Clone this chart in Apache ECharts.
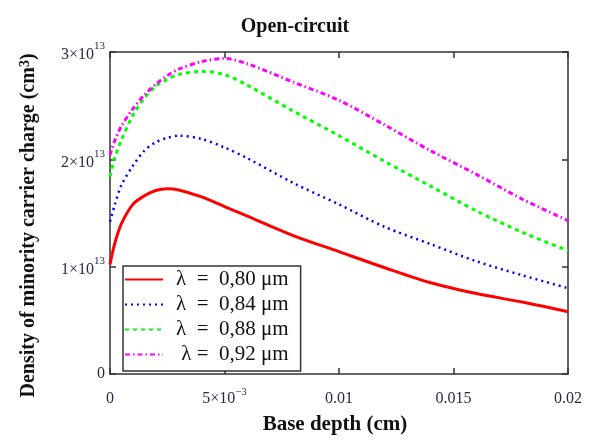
<!DOCTYPE html>
<html>
<head>
<meta charset="utf-8">
<script src="https://cdn.jsdelivr.net/npm/echarts@6/dist/echarts.min.js"></script>
<style>
  html, body { margin: 0; padding: 0; background: #fff; }
  #chart { width: 598px; height: 440px; }
</style>
</head>
<body>
<div id="chart"></div>
<script>
// base depth (cm) and charge density in units of 1e13 cm^-3
const depth = [0, 0.0002, 0.0005, 0.001, 0.0015, 0.002, 0.0025, 0.003, 0.004, 0.005, 0.006, 0.008, 0.010, 0.012, 0.014, 0.016, 0.018, 0.020];
const lambda080 = [1.02, 1.21, 1.40, 1.58, 1.66, 1.71, 1.725, 1.715, 1.65, 1.56, 1.47, 1.29, 1.14, 0.99, 0.85, 0.75, 0.67, 0.58];
const lambda084 = [1.42, 1.57, 1.76, 1.94, 2.08, 2.16, 2.20, 2.22, 2.19, 2.11, 2.01, 1.78, 1.58, 1.37, 1.21, 1.05, 0.92, 0.80];
const lambda088 = [1.84, 2.01, 2.18, 2.41, 2.57, 2.68, 2.745, 2.79, 2.82, 2.79, 2.69, 2.45, 2.22, 1.98, 1.75, 1.52, 1.32, 1.15];
const lambda092 = [2.04, 2.17, 2.31, 2.47, 2.60, 2.70, 2.78, 2.84, 2.91, 2.94, 2.89, 2.72, 2.55, 2.32, 2.08, 1.86, 1.63, 1.43];

const seriesNames = ['λ  =  0,80 μm', 'λ  =  0,84 μm', 'λ  =  0,88 μm', ' λ =  0,92 μm'];
const yTickLabels = { 0: '0', 1: '{a|1×10}{s|13}', 2: '{a|2×10}{s|13}', 3: '{a|3×10}{s|13}' };
const xTickLabels = { 0: '{a|0}', 0.005: '{a|5×10}{s|−3}', 0.01: '{a|0.01}', 0.015: '{a|0.015}', 0.02: '{a|0.02}' };

const serif = 'Liberation Serif, Times New Roman, serif';
const labelColor = '#2a2a48';
const frame = '#333';

const pairs = (ys) => depth.map((x, i) => [x, ys[i]]);

const yRich = {
  a: { fontFamily: serif, fontSize: 16, color: labelColor, padding: [6, 0, 0, 0] },
  s: { fontFamily: serif, fontSize: 11, color: labelColor, verticalAlign: 'top' }
};
const xRich = {
  a: { fontFamily: serif, fontSize: 16, color: labelColor, padding: [4, 0, 0, 0] },
  s: { fontFamily: serif, fontSize: 11, color: labelColor, verticalAlign: 'top' }
};

const boxAxis = {
  axisLine: { show: true, onZero: false, lineStyle: { color: frame, width: 1.5 } },
  axisTick: { show: true, inside: true, length: 6, lineStyle: { color: frame, width: 1.5 } },
  splitLine: { show: false }
};

const chart = echarts.init(document.getElementById('chart'));

const mkSeries = (name, ys, color, type, width) => ({
  name,
  type: 'line',
  data: pairs(ys),
  smooth: 0.3,
  symbol: 'none',
  lineStyle: { color, type, width },
  itemStyle: { color },
  z: 3
});

chart.setOption({
  animation: false,
  title: {
    text: 'Open-circuit',
    left: 290,
    top: 12,
    textAlign: 'center',
    textStyle: { fontFamily: serif, fontSize: 20, fontWeight: 'bold', color: '#111' }
  },
  grid: { left: 110, right: 30, top: 52, bottom: 57 },
  legend: {
    orient: 'vertical',
    left: 123,
    top: 266,
    itemWidth: 38,
    itemHeight: 14,
    itemGap: 4,
    padding: [3, 12, 6, 1],
    borderColor: frame,
    borderWidth: 1.5,
    backgroundColor: '#fff',
    itemStyle: { opacity: 0 },
    textStyle: { fontFamily: serif, fontSize: 21, color: '#111', padding: [0, 0, 0, 8] },
    data: seriesNames
  },
  xAxis: [{
    type: 'value',
    min: 0,
    max: 0.02,
    interval: 0.005,
    name: 'Base depth (cm)',
    nameLocation: 'middle',
    nameGap: 40,
    nameTextStyle: { fontFamily: serif, fontSize: 21, fontWeight: 'bold', color: '#111', padding: [0, 8, 0, 0] },
    ...boxAxis,
    axisLabel: {
      margin: 13,
      formatter: (v) => xTickLabels[+v.toFixed(3)] ?? '',
      rich: xRich,
      fontFamily: serif, fontSize: 16, color: labelColor
    }
  }, {
    type: 'value',
    position: 'top',
    min: 0,
    max: 0.02,
    interval: 0.005,
    ...boxAxis,
    axisLabel: { show: false }
  }],
  yAxis: [{
    type: 'value',
    min: 0,
    max: 3,
    interval: 1,
    name: '{n|Density of minority carrier charge (cm}{t|3}{n|)}',
    nameLocation: 'middle',
    nameGap: 70,
    nameTextStyle: {
      padding: [0, 25, 0, 0],
      rich: {
        n: { fontFamily: serif, fontSize: 20, fontWeight: 'bold', color: '#111' },
        t: { fontFamily: serif, fontSize: 14, fontWeight: 'bold', color: '#111', verticalAlign: 'top', padding: [0, 0, 8, 0] }
      }
    },
    ...boxAxis,
    axisLabel: {
      margin: 5,
      formatter: (v) => yTickLabels[v] ?? '',
      rich: yRich,
      fontFamily: serif, fontSize: 16, color: labelColor
    }
  }, {
    type: 'value',
    position: 'right',
    min: 0,
    max: 3,
    interval: 1,
    ...boxAxis,
    axisLabel: { show: false }
  }],
  series: [
    mkSeries(seriesNames[0], lambda080, '#ff0000', 'solid', 3),
    mkSeries(seriesNames[1], lambda084, '#0000ff', [2, 4], 2.5),
    mkSeries(seriesNames[2], lambda088, '#00ff00', [4, 4], 3),
    mkSeries(seriesNames[3], lambda092, '#ff00ff', [5, 3, 1.5, 3], 3)
  ]
});
</script>
</body>
</html>
